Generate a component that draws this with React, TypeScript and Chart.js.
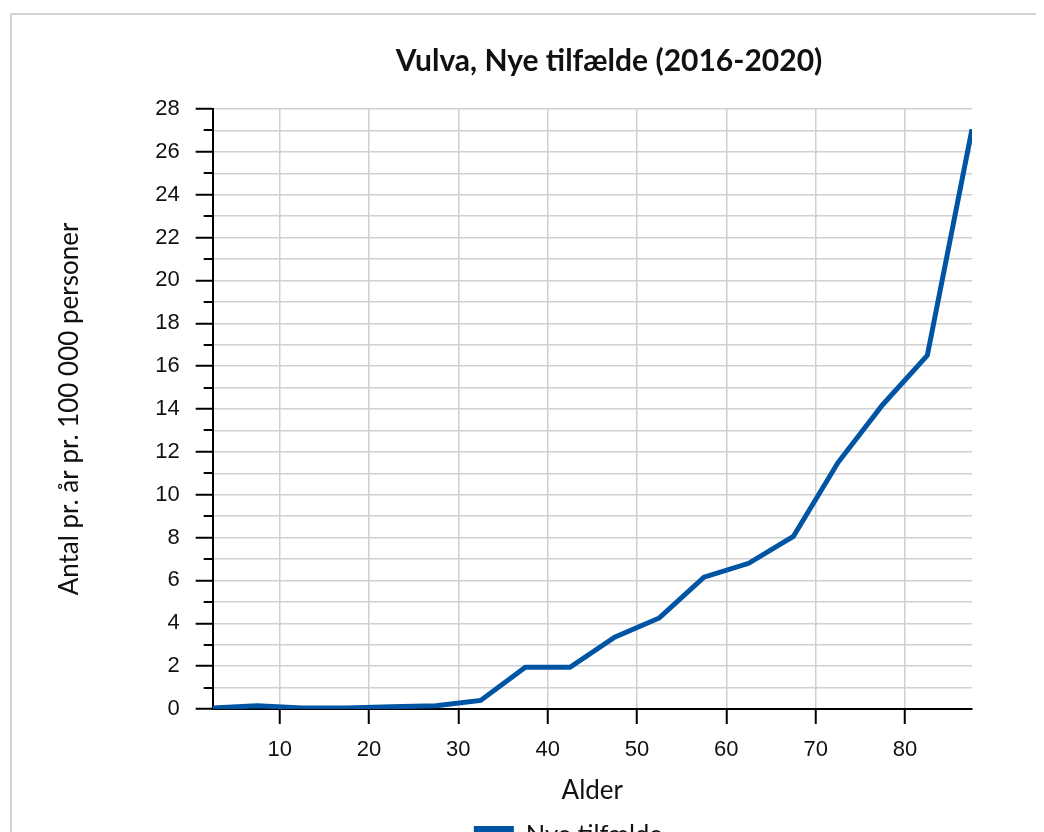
import React, { useEffect, useRef } from 'react';
import { Chart, registerables } from 'chart.js';

Chart.register(...registerables);

const TITLE = 'Vulva, Nye tilfælde (2016-2020)';
const X_TITLE = 'Alder';
const Y_TITLE = 'Antal pr. år pr. 100 000 personer';
const SERIES_LABEL = 'Nye tilfælde';

const AGES = [2.5, 7.5, 12.5, 17.5, 22.5, 27.5, 32.5, 37.5, 42.5, 47.5, 52.5, 57.5, 62.5, 67.5, 72.5, 77.5, 82.5, 87.5];
const RATES = [0.05, 0.15, 0.05, 0.05, 0.1, 0.15, 0.4, 1.95, 1.95, 3.35, 4.25, 6.15, 6.8, 8.05, 11.5, 14.2, 16.5, 27.05];

const X_MIN = 2.5;
const X_MAX = 87.5;
const X_STEP = 10;
const Y_MIN = 0;
const Y_MAX = 28;
const Y_STEP = 1;
const Y_LABEL_EVERY = 2;

const LINE_COLOR = '#0054a4';
const TEXT_COLOR = '#111111';
const GRID_COLOR = '#d0d0d0';

const decorPlugin = {
  id: 'decor',
  afterDraw(chart: any) {
    const { ctx, chartArea } = chart;
    const y = chart.scales.y;
    ctx.save();
    // minor (short) y ticks
    ctx.strokeStyle = '#000';
    ctx.lineWidth = 2;
    y.ticks.forEach((t: any) => {
      if (t.value % Y_LABEL_EVERY !== 0) {
        const py = Math.round(y.getPixelForValue(t.value));
        ctx.beginPath();
        ctx.moveTo(chartArea.left - 9, py);
        ctx.lineTo(chartArea.left, py);
        ctx.stroke();
      }
    });
    // title
    ctx.fillStyle = TEXT_COLOR;
    ctx.font = 'bold 30px Lato';
    ctx.textAlign = 'center';
    ctx.textBaseline = 'middle';
    ctx.fillText(TITLE, chart.width / 2, 46);
    // legend
    const cx = (chartArea.left + chartArea.right) / 2;
    ctx.fillStyle = LINE_COLOR;
    ctx.fillRect(cx - 118.5, chartArea.bottom + 117, 40, 14);
    ctx.fillStyle = TEXT_COLOR;
    ctx.font = '25.5px Lato';
    ctx.textAlign = 'left';
    ctx.fillText(SERIES_LABEL, cx - 66.5, chartArea.bottom + 126);
    ctx.restore();
  },
};

export default function App() {
  const ref = useRef<HTMLCanvasElement | null>(null);

  useEffect(() => {
    document.body.style.overflow = 'hidden';
    const canvas = ref.current;
    if (!canvas) return;
    const chart = new Chart(canvas, {
      type: 'line',
      data: {
        datasets: [
          {
            label: SERIES_LABEL,
            data: AGES.map((a, i) => ({ x: a, y: RATES[i] })),
            borderColor: LINE_COLOR,
            backgroundColor: LINE_COLOR,
            borderWidth: 5,
            pointRadius: 0,
            tension: 0,
            fill: false,
          },
        ],
      },
      options: {
        responsive: false,
        animation: false,
        devicePixelRatio: 1,
        layout: { padding: { top: 94, left: 0, right: 234, bottom: 86 } },
        plugins: {
          legend: { display: false },
          title: { display: false },
          tooltip: { enabled: false },
        },
        scales: {
          x: {
            type: 'linear',
            min: X_MIN,
            max: X_MAX,
            ticks: {
              stepSize: X_STEP,
              includeBounds: false,
              autoSkip: false,
              maxRotation: 0,
              padding: 13,
              color: TEXT_COLOR,
              font: { family: 'Liberation Sans', size: 22 },
            },
            grid: {
              color: GRID_COLOR,
              lineWidth: 1.5,
              tickLength: 15,
              tickColor: '#000',
              tickWidth: 2,
            },
            border: { display: true, color: '#000', width: 2 },
            title: {
              display: true,
              text: X_TITLE,
              color: TEXT_COLOR,
              font: { family: 'Lato', size: 26, lineHeight: 1.1 },
              padding: { top: 0, bottom: 4 },
            },
          },
          y: {
            type: 'linear',
            min: Y_MIN,
            max: Y_MAX,
            ticks: {
              stepSize: Y_STEP,
              autoSkip: false,
              padding: 16,
              color: TEXT_COLOR,
              font: { family: 'Liberation Sans', size: 22 },
              callback: (v: any) => (Number(v) % Y_LABEL_EVERY === 0 ? String(v) : ''),
            },
            grid: {
              color: GRID_COLOR,
              lineWidth: 1.5,
              tickLength: 17,
              tickWidth: 2,
              tickColor: (c: any) => (c.tick && c.tick.value % Y_LABEL_EVERY === 0 ? '#000' : 'rgba(0,0,0,0)'),
            },
            border: { display: true, color: '#000', width: 2 },
            title: {
              display: true,
              text: Y_TITLE,
              color: TEXT_COLOR,
              font: { family: 'Lato', size: 26 },
              padding: { top: 42, bottom: 54 },
            },
          },
        },
      },
      plugins: [decorPlugin],
    });
    return () => chart.destroy();
  }, []);

  return (
    <div style={{ paddingTop: 5, paddingLeft: 2 }}>
      <div style={{ border: '2px solid #d3d3d3', width: 1194, height: 880, background: '#fff' }}>
        <canvas ref={ref} width={1194} height={880} style={{ display: 'block' }} />
      </div>
    </div>
  );
}
